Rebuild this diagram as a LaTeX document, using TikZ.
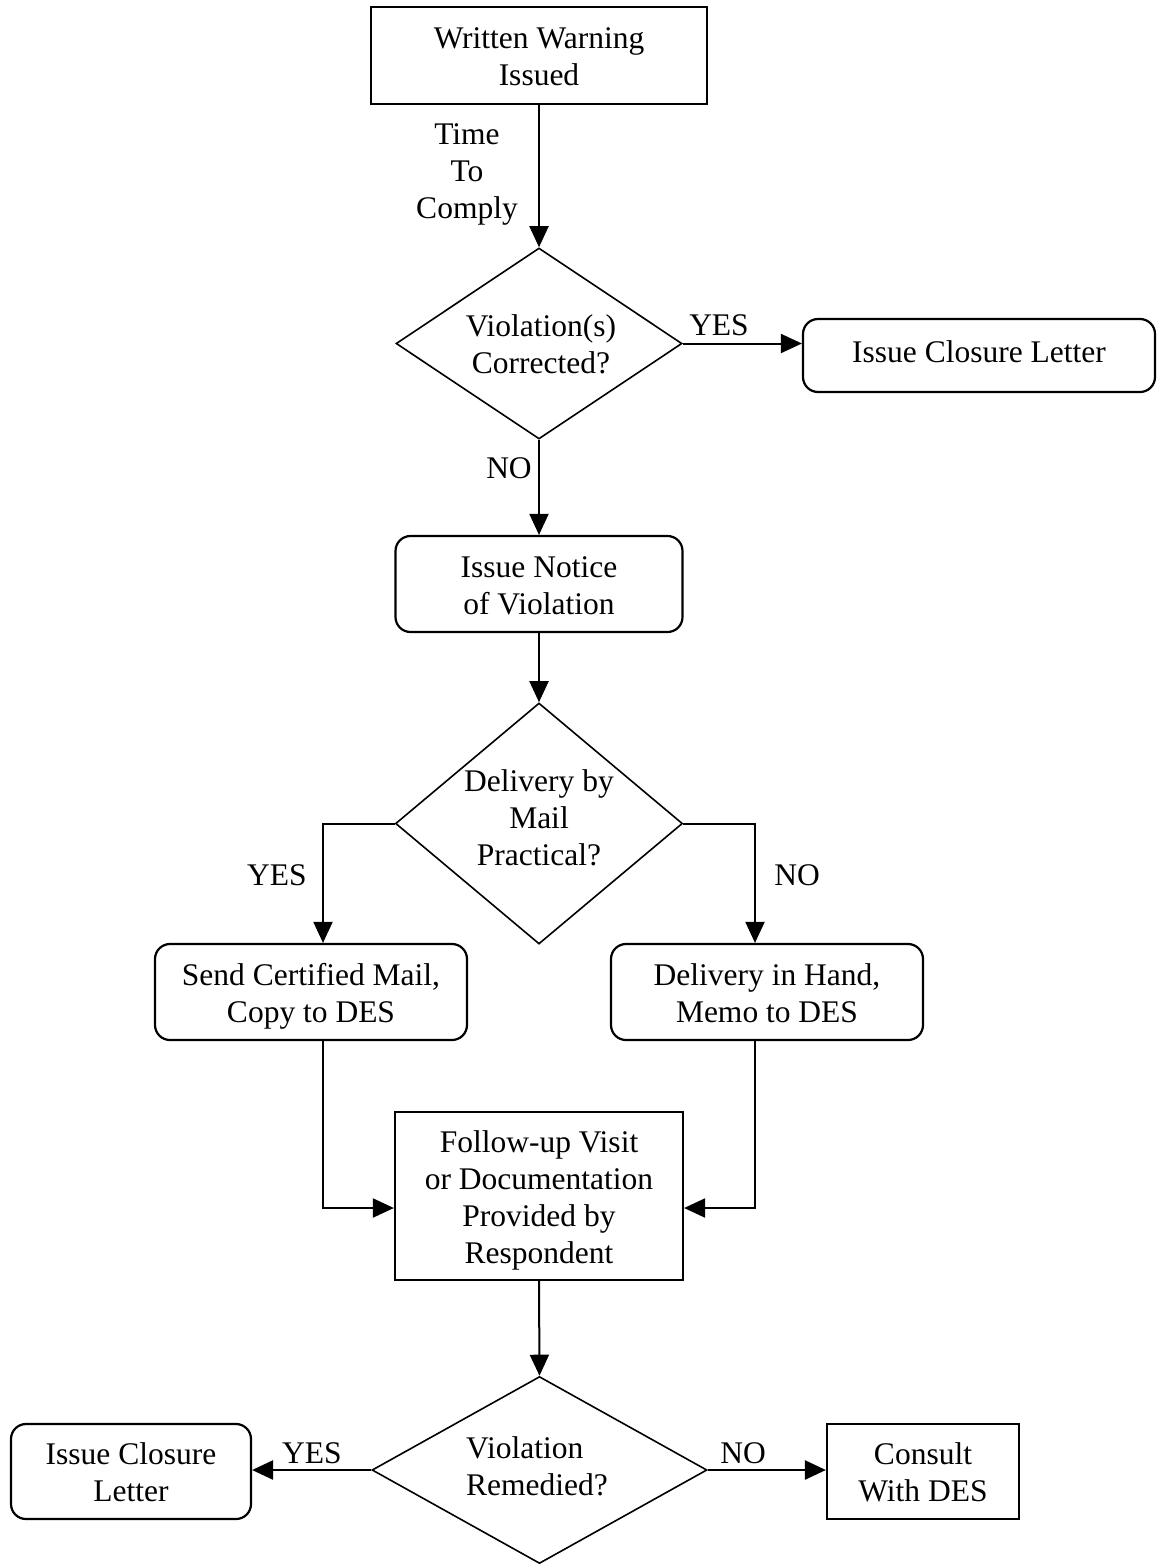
\documentclass[tikz,border=0pt]{standalone}
\usepackage{fontspec}
\setmainfont{Liberation Serif}
\usetikzlibrary{arrows.meta,shapes.geometric}
\newcommand\mystrut{\rule[-7pt]{0pt}{37pt}}
\begin{document}
\begin{tikzpicture}[x=1pt,y=-1pt,
  every node/.style={font=\fontsize{31.5}{37}\selectfont, inner sep=0pt, align=center},
  sqbox/.style={draw, line width=2.2pt},
  rbox/.style={draw, line width=2.2pt, rounded corners=15pt},
  dia/.style={draw, diamond, line width=1.6pt},
  arr/.style={line width=2pt, -{Triangle[width=19pt,length=21pt]}},
  arrb/.style={line width=2.6pt, -{Triangle[width=19pt,length=21pt]}}]
\fill[white] (0,0) rectangle (1157,1564);
\useasboundingbox (0,0) rectangle (1157,1564);

\node[sqbox, minimum width=336pt, minimum height=97pt] (warn) at (539,55.5) {Written Warning\mystrut\\Issued\mystrut};
\node (ttc) at (467,170) {Time\mystrut\\To\mystrut\\Comply\mystrut};
\node[dia, minimum width=286pt, minimum height=191pt] (d1) at (539,343.5) {};
\node (d1t) at (541,343) {Violation(s)\mystrut\\Corrected?\mystrut};
\node[rbox, minimum width=352pt, minimum height=73pt] (close1) at (979,355.5) {Issue Closure Letter\strut};
\node (yes1) at (719,328) {YES\strut};
\node (no1) at (509,471) {NO\strut};
\node[rbox, minimum width=287pt, minimum height=96pt] (notice) at (539,584) {Issue Notice\mystrut\\of Violation\mystrut};
\node[dia, minimum width=287pt, minimum height=241pt] (d2) at (539,823.5) {};
\node (d2t) at (539,817) {Delivery by\mystrut\\Mail\mystrut\\Practical?\mystrut};
\node (yes2) at (277,878) {YES\strut};
\node (no2) at (797,878) {NO\strut};
\node[rbox, minimum width=312pt, minimum height=96pt] (send) at (311,992) {Send Certified Mail,\mystrut\\Copy to DES\mystrut};
\node[rbox, minimum width=312pt, minimum height=96pt] (deliv) at (767,992) {Delivery in Hand,\mystrut\\Memo to DES\mystrut};
\node[sqbox, minimum width=288pt, minimum height=168pt] (follow) at (539,1196) {Follow-up Visit\mystrut\\or Documentation\mystrut\\Provided by\mystrut\\Respondent\mystrut};
\node[dia, minimum width=335pt, minimum height=187pt] (d3) at (539.5,1470) {};
\node[anchor=west, align=left] (d3t) at (466,1470) {Violation\strut\\Remedied?\strut};
\node[rbox, minimum width=240pt, minimum height=95pt] (close2) at (131,1471.5) {Issue Closure\mystrut\\Letter\mystrut};
\node[sqbox, minimum width=192pt, minimum height=95pt] (consult) at (923,1471.5) {Consult\mystrut\\With DES\mystrut};
\node (yes3) at (312,1456) {YES\strut};
\node (no3) at (743,1456) {NO\strut};

\draw[arr] (warn.south) -- (d1.north);
\draw[arr] (d1.east) -- (d1.east -| close1.west);
\draw[arr] (d1.south) -- (notice.north);
\draw[arr] (notice.south) -- (d2.north);
\draw[arr] (d2.west) -| ([xshift=12pt]send.north);
\draw[arr] (d2.east) -| ([xshift=-12pt]deliv.north);
\draw[arr] ([xshift=12pt]send.south) |- ([yshift=-12pt]follow.west);
\draw[arr] ([xshift=-12pt]deliv.south) |- ([yshift=-12pt]follow.east);
\draw[arr] (follow.south) -- (d3.north);
\draw[arrb] (d3.west) -- (d3.west -| close2.east);
\draw[arrb] (d3.east) -- (d3.east -| consult.west);
\end{tikzpicture}
\end{document}
